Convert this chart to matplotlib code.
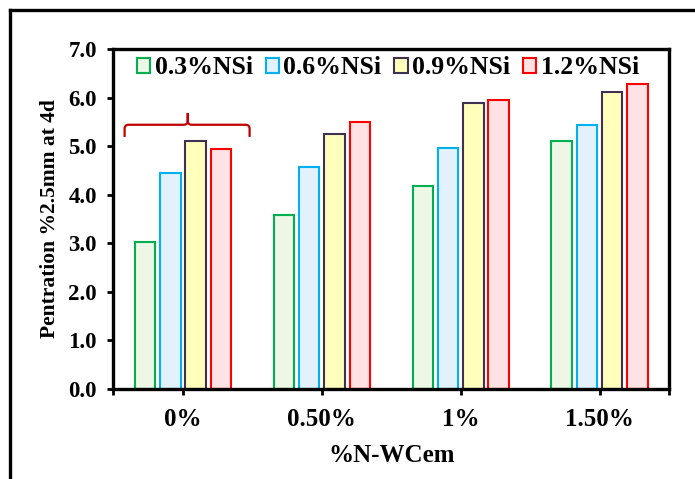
import matplotlib
matplotlib.use("Agg")
import matplotlib.pyplot as plt
import numpy as np
from matplotlib.path import Path
from matplotlib.patches import PathPatch
from matplotlib.lines import Line2D

categories = ["0%", "0.50%", "1%", "1.50%"]
series_names = ["0.3%NSi", "0.6%NSi", "0.9%NSi", "1.2%NSi"]
nsi_03 = [3.03, 3.58, 4.18, 5.10]
nsi_06 = [4.44, 4.58, 4.96, 5.44]
nsi_09 = [5.11, 5.25, 5.88, 6.11]
nsi_12 = [4.94, 5.49, 5.95, 6.27]
y_ticks = [0, 1, 2, 3, 4, 5, 6, 7]

series = [nsi_03, nsi_06, nsi_09, nsi_12]
face_colors = ["#EEF6E6", "#E2F1FC", "#FFFFBB", "#FFE2E4"]
edge_colors = ["#00B050", "#00B0F0", "#403152", "#FF0000"]

plt.rcParams['font.family'] = ['Liberation Serif', 'DejaVu Serif']
plt.rcParams['font.weight'] = 'bold'

fig = plt.figure(figsize=(6.95, 4.79), dpi=100)
ax = fig.add_axes([0.1633, 0.1879, 0.9626 - 0.1633, 0.8977 - 0.1879])

x = np.arange(len(categories))
width = 0.147
pitch = 0.182
handles = []
for i, vals in enumerate(series):
    b = ax.bar(x + (i - 1.5) * pitch, vals, width=width, color=face_colors[i],
               edgecolor=edge_colors[i], linewidth=1.5, label=series_names[i], zorder=2)
    handles.append(b)

ax.set_xlim(-0.5, 3.5)
ax.set_ylim(0, 7)
ax.set_yticks(y_ticks)
ax.set_yticklabels([f"{v:.1f}" for v in y_ticks], fontsize=16.5, fontweight='bold')
ax.set_xticks(x)
ax.set_xticklabels(categories, fontsize=18, fontweight='bold')
ax.set_xticks([-0.5, 3.5], minor=True)
ax.tick_params(axis='y', direction='out', length=4, width=2, pad=8)
ax.tick_params(axis='x', which='both', direction='out', length=4, width=2, pad=10)
for s in ax.spines.values():
    s.set_linewidth(2.4)
    s.set_color('black')

ax.set_ylabel("Pentration %2.5mm at 4d", fontsize=15.5, fontweight='bold', labelpad=6)
ax.set_xlabel("%N-WCem", fontsize=18, fontweight='bold', labelpad=9)

leg = ax.legend(handles=handles, labels=series_names, loc='center', bbox_to_anchor=(0.494, 0.945),
                ncol=4, frameon=False, fontsize=18.5, handlelength=0.52, handleheight=0.52,
                handletextpad=0.17, columnspacing=0.5, borderpad=0, borderaxespad=0)
for t in leg.get_texts():
    t.set_fontweight('bold')

# curly brace annotation above the first group
x0, x1, xm = -0.42, 0.48, 0.035
ybar, yend, ypeak = 5.44, 5.19, 5.68
rx, ry = 0.03, 0.08
verts = [(x0, yend), (x0, ybar - ry), (x0, ybar), (x0 + rx, ybar), (xm - rx, ybar),
         (xm, ybar), (xm, ybar + ry), (xm, ypeak),
         (x1, yend), (x1, ybar - ry), (x1, ybar), (x1 - rx, ybar), (xm + rx, ybar),
         (xm, ybar), (xm, ybar + ry), (xm, ypeak)]
codes = [Path.MOVETO, Path.LINETO, Path.CURVE3, Path.CURVE3, Path.LINETO,
         Path.CURVE3, Path.CURVE3, Path.LINETO,
         Path.MOVETO, Path.LINETO, Path.CURVE3, Path.CURVE3, Path.LINETO,
         Path.CURVE3, Path.CURVE3, Path.LINETO]
ax.add_patch(PathPatch(Path(verts, codes), facecolor='none', edgecolor='#C00000',
                       linewidth=1.6, zorder=3, clip_on=False))

# outer frame (partially visible)
fig.add_artist(Line2D([10 / 695, 10 / 695], [0, 1 - 10 / 479], transform=fig.transFigure,
                      color='black', linewidth=2.4))
fig.add_artist(Line2D([10 / 695, 1], [1 - 10 / 479, 1 - 10 / 479], transform=fig.transFigure,
                      color='black', linewidth=2.4))

fig.savefig("out.png", dpi=100)
